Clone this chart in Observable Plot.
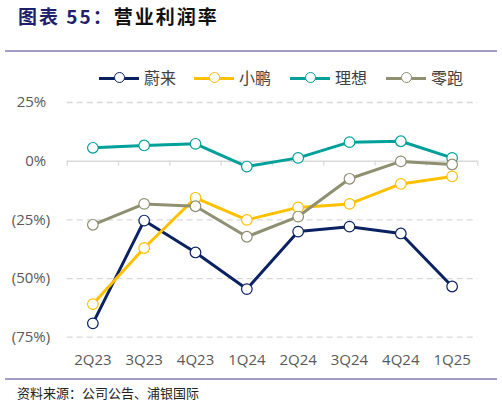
<!DOCTYPE html>
<html><head><meta charset="utf-8">
<script src="https://cdn.jsdelivr.net/npm/d3@7"></script>
<script src="https://cdn.jsdelivr.net/npm/@observablehq/plot@0.6"></script>
<style>
body{margin:0;background:#fff;width:502px;height:404px;position:relative;overflow:hidden;font-family:"Noto Sans CJK SC",sans-serif;}
.abs{position:absolute;}
#title{left:18px;top:2px;font-size:19px;font-weight:bold;color:#111;letter-spacing:2px;white-space:nowrap;}
#title .n{color:#1f1f6e;}
.rule{left:5px;width:492px;height:2px;background:#a09cc6;}
#legend{top:67px;left:0;width:502px;height:22px;}
.li{position:absolute;top:0;height:22px;}
.li .ln{position:absolute;left:0;top:9.5px;width:40px;height:3px;}
.li .mk{position:absolute;left:14.5px;top:5px;width:9px;height:9px;border-radius:50%;background:#fff;border:1.2px solid;}
.li .tx{position:absolute;left:45px;top:0;font-size:16px;line-height:20px;color:#404040;white-space:nowrap;}
#src{left:17px;top:383px;font-size:13px;color:#222;white-space:nowrap;}
#chart{left:0;top:90px;}
</style></head>
<body>
<div id="title" class="abs"><span class="n">图表 55：</span>营业利润率</div>
<div class="abs rule" style="top:50px"></div>
<div id="legend" class="abs"></div>
<div id="chart" class="abs"></div>
<div class="abs rule" style="top:378px"></div>
<div id="src" class="abs">资料来源：公司公告、浦银国际</div>
<script>
const quarters = ["2Q23","3Q23","4Q23","1Q24","2Q24","3Q24","4Q24","1Q25"];
const nio    = [-69.1, -25.3, -38.9, -54.5, -30.0, -27.9, -30.8, -53.4];
const xpeng  = [-60.9, -37.0, -15.6, -25.0, -19.7, -18.2, -9.7, -6.5];
const li     = [5.7, 6.7, 7.4, -2.3, 1.4, 8.1, 8.5, 1.4];
const leap   = [-27.1, -18.2, -19.2, -32.2, -23.6, -7.5, -0.1, -1.4];
const seriesNames = ["蔚来","小鹏","理想","零跑"];
const colors = ["#0b2262","#ffc000","#00a09a","#8f8f72"];
const yTicks = [25, 0, -25, -50, -75];

const seriesVals = [nio, xpeng, li, leap];
const data = [];
seriesVals.forEach((vals, s) => vals.forEach((v, i) => data.push({series: seriesNames[s], i: i + 0.5, q: quarters[i], v})));

// legend
const legX = [99, 194, 290, 386];
const leg = document.getElementById("legend");
seriesNames.forEach((n, k) => {
  const d = document.createElement("div");
  d.className = "li";
  d.style.left = legX[k] + "px";
  d.innerHTML = `<div class="ln" style="background:${colors[k]}"></div><div class="mk" style="border-color:${colors[k]}"></div><div class="tx">${n}</div>`;
  leg.appendChild(d);
});

const fmt = d => d < 0 ? `(${-d}%)` : `${d}%\u2008`;
const plot = Plot.plot({
  width: 502,
  height: 290,
  marginLeft: 66.7,
  marginRight: 24.7,
  marginTop: 12,
  marginBottom: 43.3,
  style: {fontFamily: "'Open Sans', sans-serif", background: "transparent"},
  x: {type: "linear", domain: [0, quarters.length]},
  y: {domain: [-75, 25]},
  color: {domain: seriesNames, range: colors},
  marks: [
    Plot.ruleY(yTicks.filter(d => d !== 0), {stroke: "#d9d9d9", strokeWidth: 1.3, strokeDasharray: "6,4"}),
    Plot.ruleY([0], {stroke: "#d9d9d9", strokeWidth: 1.5}),
    Plot.ruleX(d3.range(quarters.length + 1), {y1: 0, y2: -2.1, stroke: "#d9d9d9", strokeWidth: 1.3}),
    Plot.axisY({ticks: yTicks, tickFormat: fmt, tickSize: 0, tickPadding: 17, fontSize: 15, color: "#595959", label: null}),
    Plot.axisX({ticks: quarters.map((q, i) => i + 0.5), tickFormat: d => quarters[Math.floor(d)], tickSize: 0, tickPadding: 17, fontSize: 15, color: "#595959", label: null}),
    Plot.line(data, {x: "i", y: "v", z: "series", stroke: "series", strokeWidth: 3}),
    Plot.dot(data, {x: "i", y: "v", stroke: "series", fill: "white", r: 5.3, strokeWidth: 1.2})
  ]
});
document.getElementById("chart").appendChild(plot);
</script>
</body></html>
